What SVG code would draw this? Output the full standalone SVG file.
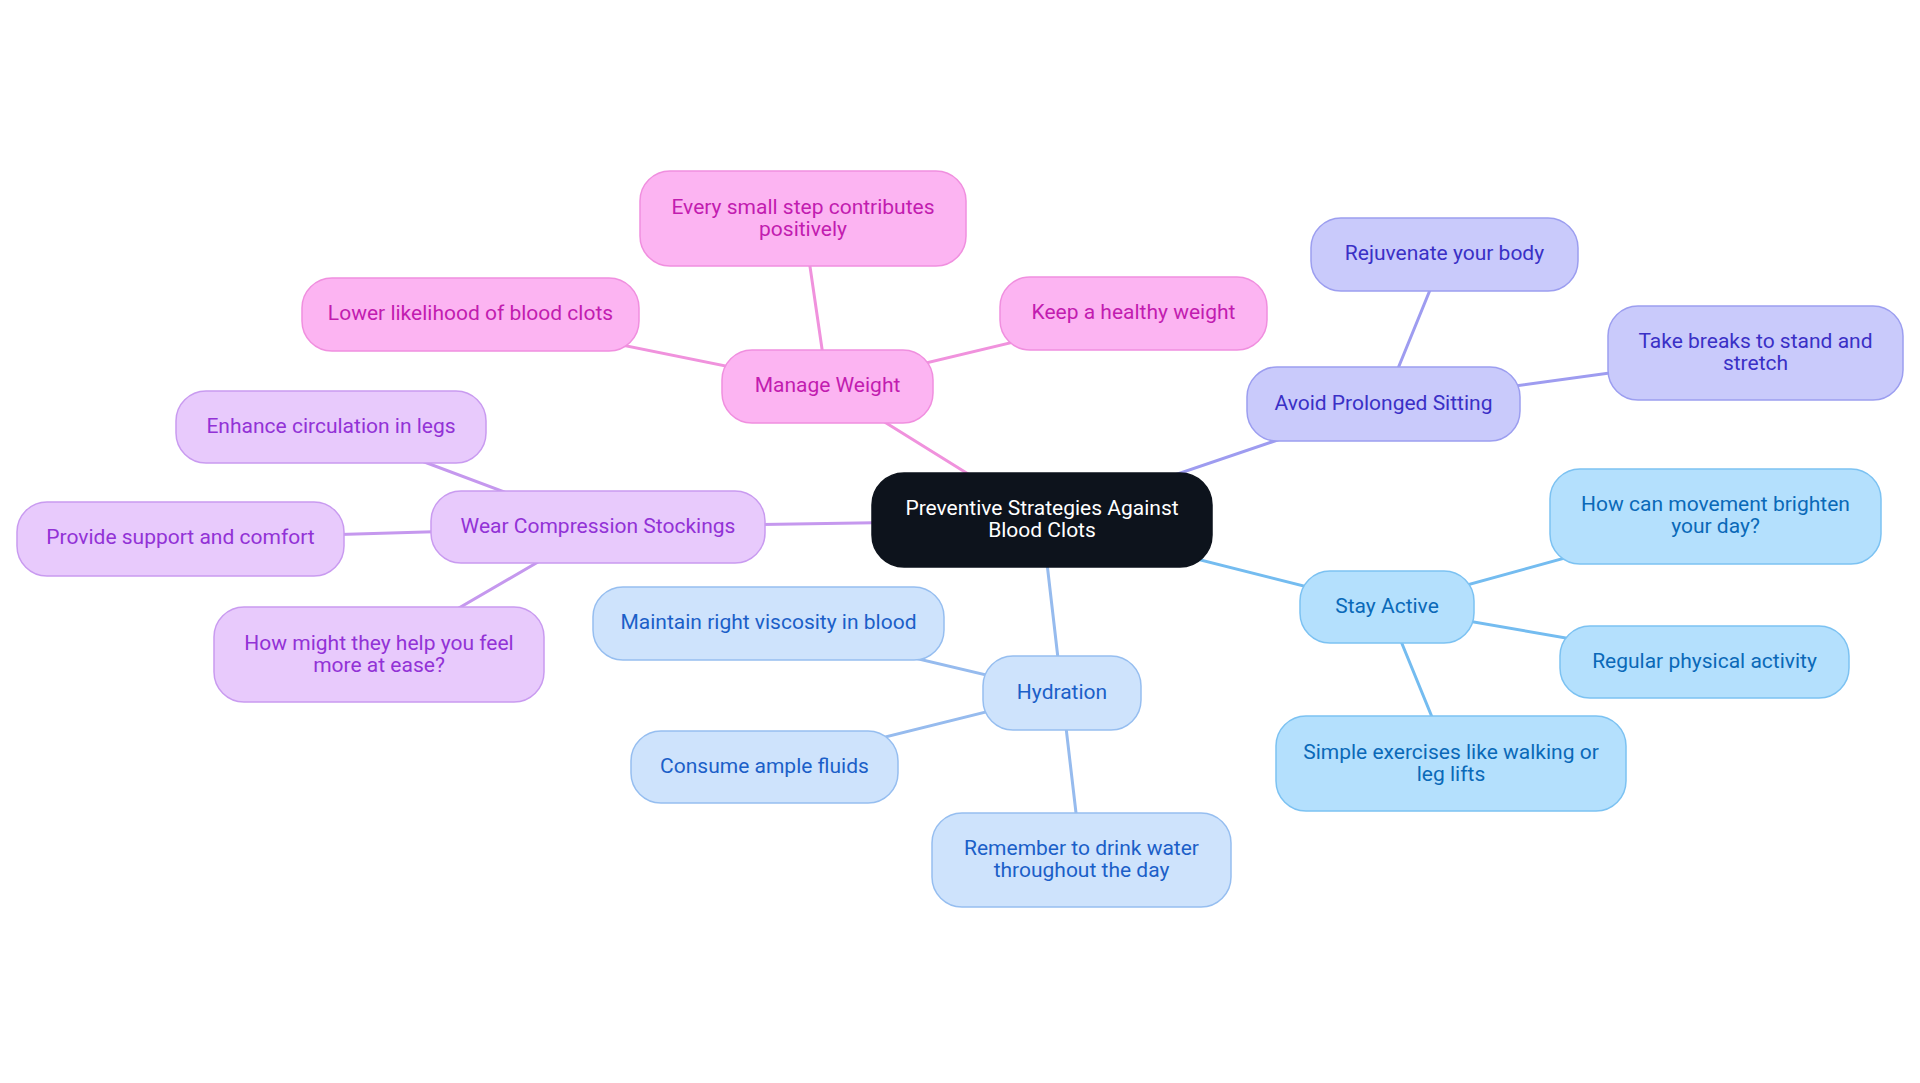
<svg xmlns="http://www.w3.org/2000/svg" width="1920" height="1083" viewBox="0 0 1920 1083">
<style>
text{font-family:Roboto,"Liberation Sans",sans-serif;font-size:21px;text-anchor:middle;dominant-baseline:central}
.e{fill:none;stroke-width:3;stroke-linecap:round}
.n rect{stroke-width:1.5}
.pk rect{fill:#FCB4F2;stroke:#F08FDF}.pk text{fill:#C21CB0}
.in rect{fill:#C9CAFB;stroke:#9C9EF0}.in text{fill:#3A30C6}
.sk rect{fill:#B4E0FD;stroke:#7CC2F2}.sk text{fill:#0A69B8}
.bl rect{fill:#CEE3FC;stroke:#96BEF0}.bl text{fill:#1B5FC8}
.pu rect{fill:#E8CAFC;stroke:#C99BF0}.pu text{fill:#9232D6}
.root rect{fill:#0D131C;stroke:#0D131C}.root text{fill:#FFFFFF}
</style>
<g id="connectors">
<g stroke="#F092DD" class="e">
<line class="e" x1="1042" y1="520" x2="827.5" y2="386.5"/>
<line class="e" x1="827.5" y1="386.5" x2="803" y2="218.5"/>
<line class="e" x1="827.5" y1="386.5" x2="470.5" y2="314.5"/>
<line class="e" x1="827.5" y1="386.5" x2="1133.5" y2="313.5"/>
</g>
<g stroke="#9E9CF0" class="e">
<line class="e" x1="1042" y1="520" x2="1383.5" y2="404"/>
<line class="e" x1="1383.5" y1="404" x2="1444.5" y2="254.5"/>
<line class="e" x1="1383.5" y1="404" x2="1755.5" y2="353"/>
</g>
<g stroke="#74BCF0" class="e">
<line class="e" x1="1042" y1="520" x2="1387" y2="607"/>
<line class="e" x1="1387" y1="607" x2="1715.5" y2="516.5"/>
<line class="e" x1="1387" y1="607" x2="1704.5" y2="662"/>
<line class="e" x1="1387" y1="607" x2="1451" y2="763.5"/>
</g>
<g stroke="#96BBEE" class="e">
<line class="e" x1="1042" y1="520" x2="1062" y2="693"/>
<line class="e" x1="1062" y1="693" x2="768.5" y2="623.5"/>
<line class="e" x1="1062" y1="693" x2="764.5" y2="767"/>
<line class="e" x1="1062" y1="693" x2="1081.5" y2="860"/>
</g>
<g stroke="#C598EE" class="e">
<line class="e" x1="1042" y1="520" x2="598" y2="527"/>
<line class="e" x1="598" y1="527" x2="331" y2="427"/>
<line class="e" x1="598" y1="527" x2="180.5" y2="539"/>
<line class="e" x1="598" y1="527" x2="379" y2="654.5"/>
</g>
</g>
<g id="root" class="n root"><rect x="872" y="473" width="340" height="94" rx="32"/><text x="1042" y="508">Preventive Strategies Against</text><text x="1042" y="530">Blood Clots</text></g>
<g id="manage-weight" class="n pk"><rect x="722" y="350" width="211" height="73" rx="30"/><text x="827.5" y="385">Manage Weight</text></g>
<g id="every-small-step" class="n pk"><rect x="640" y="171" width="326" height="95" rx="30"/><text x="803" y="207">Every small step contributes</text><text x="803" y="229">positively</text></g>
<g id="lower-likelihood" class="n pk"><rect x="302" y="278" width="337" height="73" rx="30"/><text x="470.5" y="313">Lower likelihood of blood clots</text></g>
<g id="keep-healthy" class="n pk"><rect x="1000" y="277" width="267" height="73" rx="30"/><text x="1133.5" y="312">Keep a healthy weight</text></g>
<g id="avoid-sitting" class="n in"><rect x="1247" y="367" width="273" height="74" rx="30"/><text x="1383.5" y="403">Avoid Prolonged Sitting</text></g>
<g id="rejuvenate" class="n in"><rect x="1311" y="218" width="267" height="73" rx="30"/><text x="1444.5" y="253">Rejuvenate your body</text></g>
<g id="take-breaks" class="n in"><rect x="1608" y="306" width="295" height="94" rx="30"/><text x="1755.5" y="341">Take breaks to stand and</text><text x="1755.5" y="363">stretch</text></g>
<g id="stay-active" class="n sk"><rect x="1300" y="571" width="174" height="72" rx="30"/><text x="1387" y="606">Stay Active</text></g>
<g id="how-movement" class="n sk"><rect x="1550" y="469" width="331" height="95" rx="30"/><text x="1715.5" y="504">How can movement brighten</text><text x="1715.5" y="526">your day?</text></g>
<g id="regular-activity" class="n sk"><rect x="1560" y="626" width="289" height="72" rx="30"/><text x="1704.5" y="661">Regular physical activity</text></g>
<g id="simple-exercises" class="n sk"><rect x="1276" y="716" width="350" height="95" rx="30"/><text x="1451" y="752">Simple exercises like walking or</text><text x="1451" y="774">leg lifts</text></g>
<g id="hydration" class="n bl"><rect x="983" y="656" width="158" height="74" rx="30"/><text x="1062" y="692">Hydration</text></g>
<g id="maintain-viscosity" class="n bl"><rect x="593" y="587" width="351" height="73" rx="30"/><text x="768.5" y="622">Maintain right viscosity in blood</text></g>
<g id="consume-fluids" class="n bl"><rect x="631" y="731" width="267" height="72" rx="30"/><text x="764.5" y="766">Consume ample fluids</text></g>
<g id="remember-water" class="n bl"><rect x="932" y="813" width="299" height="94" rx="30"/><text x="1081.5" y="848">Remember to drink water</text><text x="1081.5" y="870">throughout the day</text></g>
<g id="wear-stockings" class="n pu"><rect x="431" y="491" width="334" height="72" rx="30"/><text x="598" y="526">Wear Compression Stockings</text></g>
<g id="enhance-circulation" class="n pu"><rect x="176" y="391" width="310" height="72" rx="30"/><text x="331" y="426">Enhance circulation in legs</text></g>
<g id="provide-support" class="n pu"><rect x="17" y="502" width="327" height="74" rx="30"/><text x="180.5" y="537">Provide support and comfort</text></g>
<g id="how-might" class="n pu"><rect x="214" y="607" width="330" height="95" rx="30"/><text x="379" y="643">How might they help you feel</text><text x="379" y="665">more at ease?</text></g>
</svg>
